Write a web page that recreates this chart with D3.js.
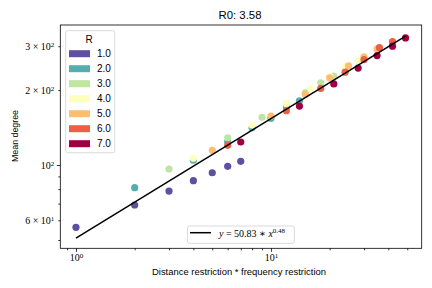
<!DOCTYPE html>
<html>
<head>
<meta charset="utf-8">
<script src="https://cdn.jsdelivr.net/npm/d3@7"></script>
<style>
body { margin: 0; background: #fff; }
svg { display: block; }
</style>
</head>
<body>
<script>
// data: x = R * f, one series per R
var rValues = [1, 2, 3, 4, 5, 6, 7];
var freqValues = [1, 2, 3, 4, 5, 6, 7];
var degR1 = [56.2, 69.1, 78.6, 86.5, 93.1, 98.8, 103.5];
var degR2 = [81.1, 104.5, 124, 141, 154, 171, 181];
var degR3 = [96.4, 128.7, 155.5, 176, 195, 214, 227.6];
var degR4 = [106.4, 144.7, 177, 203, 227, 248.3, 262];
var degR5 = [114.6, 157.3, 192, 224, 250, 272, 292.5];
var degR6 = [120.0, 165.2, 203, 236, 265, 296, 313];
var degR7 = [123.7, 172.5, 211.6, 245, 275, 300, 324];
var degrees = [degR1, degR2, degR3, degR4, degR5, degR6, degR7];
var rLabels = ["1.0", "2.0", "3.0", "4.0", "5.0", "6.0", "7.0"];
var rColors = ["#5e4fa2", "#54aead", "#bfe5a0", "#fefebe", "#fdbf6f", "#ec6146", "#9e0142"];
var fitA = 50.83, fitB = 0.48;

var xMajor = [1, 10];
var xMinor = [0.9, 2, 3, 4, 5, 6, 7, 8, 9, 20, 30, 40, 50];
var yMajor = [100];
var yMinor = [50, 60, 70, 80, 90, 200, 300];
var yLabelled = {60: ["6", "1"], 200: ["2", "2"], 300: ["3", "2"]};

var width = 432, height = 288;
var plotL = 60.3, plotR = 421.7, plotT = 25, plotB = 248.3;
var serif = "'Liberation Serif', 'DejaVu Serif', serif";
var sans = "'Liberation Sans', 'DejaVu Sans', sans-serif";

var x = d3.scaleLog().domain([0.831, 59.3]).range([plotL, plotR]);
var y = d3.scaleLog().domain([46.3, 365]).range([plotB, plotT]);

var svg = d3.select("body").append("svg")
	.attr("width", width)
	.attr("height", height);

// points, one row per R
var points = [];
rValues.forEach(function(r, i){
	freqValues.forEach(function(f, j){
		points.push({x: r * f, y: degrees[i][j], c: rColors[i]});
	});
});

svg.selectAll(".dot")
	.data(points)
	.enter().append("circle")
	.attr("class", "dot")
	.attr("cx", function(d){ return x(d.x); })
	.attr("cy", function(d){ return y(d.y); })
	.attr("r", 3.6)
	.style("fill", function(d){ return d.c; });

// fit line
var fitX = d3.extent(points, function(d){ return d.x; });
var line = d3.line()
	.x(function(d){ return x(d); })
	.y(function(d){ return y(fitA * Math.pow(d, fitB)); });
svg.append("path")
	.datum(fitX)
	.attr("d", line)
	.attr("fill", "none")
	.attr("stroke", "#000")
	.attr("stroke-width", 1.5);

// axes (minor and major ticks in separate groups so the joins don't clash)
function superLabel(sel, base, sup){
	sel.text(null);
	sel.append("tspan").text(base);
	sel.append("tspan").attr("dy", "-0.45em").attr("font-size", "7px").text(sup);
}

var gxMinor = svg.append("g").attr("transform", "translate(0," + plotB + ")");
gxMinor.call(d3.axisBottom(x).tickValues(xMinor).tickSize(2).tickFormat(""));
var gxMajor = svg.append("g").attr("transform", "translate(0," + plotB + ")");
gxMajor.call(d3.axisBottom(x).tickValues(xMajor).tickSize(3.5).tickPadding(2.5).tickFormat(""));
gxMajor.selectAll(".tick text")
	.each(function(d){ superLabel(d3.select(this), "10", d === 1 ? "0" : "1"); });

var gyMinor = svg.append("g").attr("transform", "translate(" + plotL + ",0)");
gyMinor.call(d3.axisLeft(y).tickValues(yMinor).tickSize(2).tickPadding(4).tickFormat(""));
gyMinor.selectAll(".tick text").each(function(d){
	var l = yLabelled[d];
	if (l) superLabel(d3.select(this), l[0] + " \u00d7 10", l[1]);
});
var gyMajor = svg.append("g").attr("transform", "translate(" + plotL + ",0)");
gyMajor.call(d3.axisLeft(y).tickValues(yMajor).tickSize(3.5).tickPadding(2.5).tickFormat(""));
gyMajor.selectAll(".tick text")
	.each(function(){ superLabel(d3.select(this), "10", "2"); });

svg.selectAll(".domain").remove();
svg.selectAll(".tick line").attr("stroke-width", 0.8);
svg.selectAll(".tick text")
	.attr("font-family", serif)
	.attr("font-size", "10px")
	.attr("fill", "#000");

// frame
svg.append("rect")
	.attr("x", plotL).attr("y", plotT)
	.attr("width", plotR - plotL).attr("height", plotB - plotT)
	.attr("fill", "none").attr("stroke", "#000").attr("stroke-width", 0.8);

// labels
svg.append("text")
	.attr("x", 240).attr("y", 18.5)
	.attr("text-anchor", "middle")
	.attr("font-family", sans).attr("font-size", "11.5px")
	.attr("textLength", 43).attr("lengthAdjust", "spacingAndGlyphs")
	.text("R0: 3.58");

svg.append("text")
	.attr("x", 239).attr("y", 275)
	.attr("text-anchor", "middle")
	.attr("font-family", sans).attr("font-size", "9.5px")
	.attr("textLength", 174).attr("lengthAdjust", "spacingAndGlyphs")
	.text("Distance restriction * frequency restriction");

svg.append("text")
	.attr("transform", "translate(18,136) rotate(-90)")
	.attr("text-anchor", "middle")
	.attr("font-family", sans).attr("font-size", "9.5px")
	.attr("textLength", 52).attr("lengthAdjust", "spacingAndGlyphs")
	.text("Mean degree");

// colour legend
var leg = svg.append("g");
leg.append("rect")
	.attr("x", 65.7).attr("y", 30.7).attr("width", 49).attr("height", 122)
	.attr("rx", 2).attr("fill", "#fff").attr("fill-opacity", 0.8)
	.attr("stroke", "#d0d0d0").attr("stroke-width", 0.8);
leg.append("text")
	.attr("x", 89).attr("y", 43)
	.attr("text-anchor", "middle")
	.attr("font-family", sans).attr("font-size", "10px")
	.text("R");
var rows = leg.selectAll(".row")
	.data(rLabels)
	.enter().append("g")
	.attr("class", "row")
	.attr("transform", function(d, i){ return "translate(0," + (53.7 + i * 15) + ")"; });
rows.append("rect")
	.attr("x", 69).attr("y", -3.5).attr("width", 21).attr("height", 7)
	.style("fill", function(d, i){ return rColors[i]; });
rows.append("text")
	.attr("x", 97).attr("y", 3.6)
	.attr("font-family", sans).attr("font-size", "10px")
	.text(function(d){ return d; });

// fit legend
var fl = svg.append("g");
fl.append("rect")
	.attr("x", 187.5).attr("y", 226).attr("width", 106.8).attr("height", 17.3)
	.attr("rx", 2).attr("fill", "#fff").attr("fill-opacity", 0.8)
	.attr("stroke", "#d0d0d0").attr("stroke-width", 0.8);
fl.append("line")
	.attr("x1", 190).attr("x2", 211).attr("y1", 232.7).attr("y2", 232.7)
	.attr("stroke", "#000").attr("stroke-width", 1.5);
var ft = fl.append("text")
	.attr("x", 219).attr("y", 236.5)
	.attr("font-family", serif).attr("font-size", "10px");
ft.append("tspan").attr("font-style", "italic").text("y");
ft.append("tspan").text(" = 50.83 \u2217 ");
ft.append("tspan").attr("font-style", "italic").text("x");
ft.append("tspan").attr("dy", "-0.45em").attr("font-size", "7px").text(fitB.toFixed(2));
</script>
</body>
</html>
